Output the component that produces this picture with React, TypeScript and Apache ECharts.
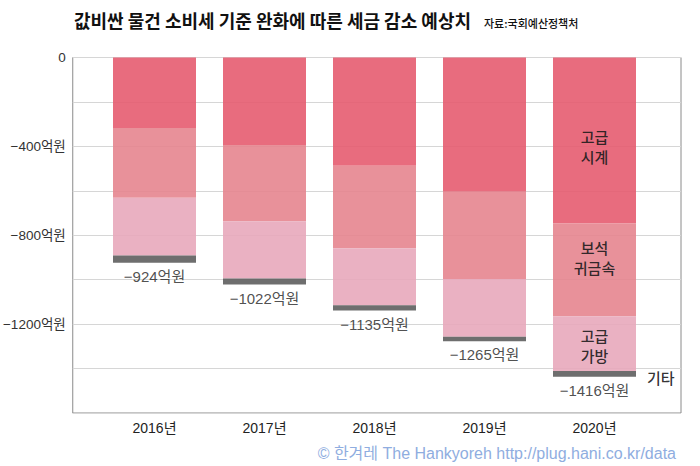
import React, { useEffect, useRef } from "react";
import * as echarts from "echarts";

const categories = ["2016년", "2017년", "2018년", "2019년", "2020년"];
const watches = [317, 394, 487, 604, 747];
const jewelry = [314, 343, 372, 393, 418];
const bags = [260, 258, 256, 260, 246];
const others = [33, 27, 24, 20, 26];
const totals = [924, 1022, 1135, 1265, 1416];
const yTicks = [0, -400, -800, -1200];

const KFONT = "'Liberation Sans', 'Noto Sans CJK KR', sans-serif";
const CJK = "'Noto Sans CJK KR', sans-serif";

export default function App() {
  const ref = useRef<HTMLDivElement>(null);
  useEffect(() => {
    if (!ref.current) return;
    const chart = echarts.init(ref.current, undefined, { renderer: "svg" });
    const last = categories.length - 1;
    const neg = (a: number[]) => a.map((v) => -v);
    const withLabel = (arr: number[], text: string, offset: number[]) =>
      neg(arr).map((v, i) =>
        i === last
          ? {
              value: v,
              label: {
                show: true,
                position: "inside",
                formatter: text,
                offset,
                color: "#1a1a1a",
                fontSize: 15,
                fontWeight: 500,
                lineHeight: 20,
                fontFamily: CJK,
              },
            }
          : v
      );
    const stackEnds = categories.map(
      (_, i) => -(watches[i] + jewelry[i] + bags[i] + others[i])
    );
    const barCommon = {
      type: "bar",
      stack: "t",
      xAxisIndex: 1,
      yAxisIndex: 1,
      barWidth: 83,
    };
    chart.setOption({
      animation: false,
      title: [
        {
          text: "값비싼 물건 소비세 기준 완화에 따른 세금 감소 예상치",
          left: 69,
          top: 6,
          textStyle: {
            fontSize: 18,
            fontWeight: "bold",
            color: "#111",
            fontFamily: CJK,
          },
        },
        {
          text: "자료:국회예산정책처",
          left: 479,
          top: 12,
          textStyle: {
            fontSize: 11,
            fontWeight: 500,
            color: "#111",
            fontFamily: CJK,
          },
        },
        {
          text: "© 한겨레 The Hankyoreh http://plug.hani.co.kr/data",
          right: 19,
          top: 440,
          textStyle: {
            fontSize: 16,
            fontWeight: "normal",
            color: "#8FADE0",
            fontFamily: KFONT,
          },
        },
      ],
      grid: [
        {
          left: 72,
          right: 19,
          top: 57.5,
          bottom: 53,
          show: true,
          borderColor: "#8a8a8a",
          borderWidth: 1,
          backgroundColor: "transparent",
        },
        { left: 99.5, right: 50.5, top: 57.5, bottom: 53 },
      ],
      xAxis: [
        {
          gridIndex: 0,
          type: "category",
          data: categories,
          show: false,
        },
        {
          gridIndex: 1,
          type: "category",
          data: categories,
          axisLine: { show: false },
          axisTick: { show: false },
          axisLabel: {
            margin: 8,
            fontSize: 14,
            color: "#222",
            fontFamily: KFONT,
          },
        },
      ],
      yAxis: [
        {
          gridIndex: 0,
          type: "value",
          min: -1600,
          max: 0,
          interval: 200,
          axisLine: { show: false },
          axisTick: { show: false },
          splitLine: { lineStyle: { color: "#d6d6d6", width: 1 } },
          axisLabel: {
            fontSize: 13.5,
            color: "#333",
            margin: 7,
            fontFamily: KFONT,
            formatter: (v: number) =>
              yTicks.includes(v) ? (v === 0 ? "0" : "−" + Math.abs(v) + "억원") : "",
          },
        },
        {
          gridIndex: 1,
          type: "value",
          min: -1600,
          max: 0,
          interval: 200,
          show: false,
        },
      ],
      series: [
        {
          ...barCommon,
          name: "고급시계",
          data: withLabel(watches, "고급\n시계", [0, 6]),
          itemStyle: { color: "#E55C70", opacity: 0.9 },
        },
        {
          ...barCommon,
          name: "보석귀금속",
          data: withLabel(jewelry, "보석\n귀금속", [0, -12]),
          itemStyle: { color: "#E5858F", opacity: 0.9 },
        },
        {
          ...barCommon,
          name: "고급가방",
          data: withLabel(bags, "고급\n가방", [0, 2]),
          itemStyle: { color: "#E8A9BB", opacity: 0.9 },
        },
        {
          ...barCommon,
          name: "기타",
          data: neg(others).map((v, i) =>
            i === last
              ? {
                  value: v,
                  label: {
                    show: true,
                    position: "right",
                    distance: 11,
                    offset: [0, 4],
                    formatter: "기타",
                    color: "#1a1a1a",
                    fontSize: 15,
                    fontWeight: 500,
                    fontFamily: CJK,
                  },
                }
              : v
          ),
          itemStyle: { color: "#5E5E5E", opacity: 0.9 },
        },
        {
          type: "scatter",
          name: "합계",
          xAxisIndex: 1,
          yAxisIndex: 1,
          symbolSize: 0,
          data: stackEnds,
          silent: true,
          label: {
            show: true,
            position: "bottom",
            distance: 6,
            color: "#222",
            fontSize: 15,
            fontFamily: KFONT,
            formatter: (p: any) => "−" + totals[p.dataIndex] + "억원",
          },
        },
      ],
    });
    return () => chart.dispose();
  }, []);
  return (
    <div
      ref={ref}
      style={{ position: "fixed", left: 0, top: 0, width: 700, height: 466, background: "#fff" }}
    />
  );
}
